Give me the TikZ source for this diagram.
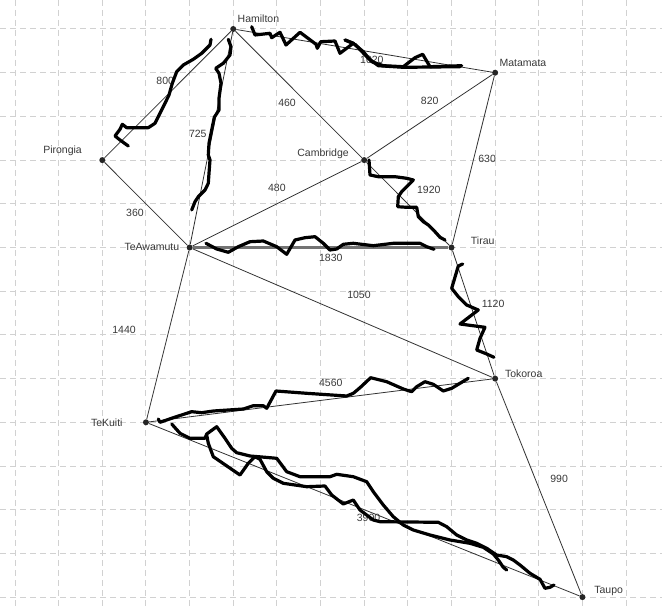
\documentclass[tikz,border=0pt]{standalone}
\usepackage{fontspec}
\setmainfont{Liberation Sans}
\usetikzlibrary{arrows}
\tikzstyle{town} = [circle, fill=black!85, inner sep=0pt, minimum size=6pt]
\tikzstyle{townlbl} = [text=black!78, font=\fontsize{10.5}{12}\selectfont, inner sep=2pt, text height=7.5pt, text depth=2.2pt]
\tikzstyle{weight} = [text=black!78, font=\fontsize{10.5}{12}\selectfont, inner sep=1pt]
\tikzstyle{road} = [draw, black!80, line width=0.8pt]
\tikzstyle{mainroad} = [draw, black!55, line width=2.2pt]
\tikzstyle{gridline} = [black!18, line width=1pt, dash pattern=on 6pt off 4pt]
\tikzstyle{scribble} = [draw, black, line width=3.2pt, line join=round, line cap=round]

\begin{document}
\begin{tikzpicture}[x=1pt, y=-1pt]
    \useasboundingbox (0,0) rectangle (662,610);
    % background grid
    \foreach \i in {0,...,14}
      \draw[gridline] ({15+43.65*\i},0) -- ({15+43.65*\i},610);
    \foreach \j in {0,...,13}
      \draw[gridline] (0,{29+43.7*\j}) -- (662,{29+43.7*\j});

    \node[town, label={[townlbl]above right:Hamilton}] (hamilton) at (233.25,29) {};
    \node[town, label={[townlbl]above right:Matamata}] (matamata) at (495.15,72.7) {};
    \node[town, label={[townlbl, xshift=-16pt]above left:Pirongia}] (pirongia) at (102.3,160.1) {};
    \node[town, label={[townlbl, xshift=-11pt, yshift=-3pt]above left:Cambridge}] (cambridge) at (364.2,160.1) {};
    \node[town, label={[townlbl, xshift=-5pt]left:TeAwamutu}] (teawamutu) at (189.6,247.5) {};
    \node[town, label={[townlbl, xshift=15pt, yshift=-4pt]above right:Tirau}] (tirau) at (451.5,247.5) {};
    \node[town, label={[townlbl, xshift=4.5pt, yshift=3.5pt]right:Tokoroa}] (tokoroa) at (495.15,378.6) {};
    \node[town, label={[townlbl, xshift=-18pt, yshift=-2pt]left:TeKuiti}] (tekuiti) at (145.95,422.3) {};
    \node[town, label={[townlbl, xshift=6.5pt, yshift=6pt]right:Taupo}] (taupo) at (582.45,597.1) {};

    \draw
    (hamilton) edge[road] node[weight, pos=.53, yshift=-7.7pt] {1020} (matamata)
    (pirongia) edge[road] node[weight, pos=.48, yshift=16.6pt] {800} (hamilton)
    (hamilton) edge[road] node[weight, pos=.48, xshift=-14.5pt] {725} (teawamutu)
    (hamilton) edge[road] node[weight, pos=.49, xshift=-10.4pt, yshift=-9.8pt] {460} (cambridge)
    (cambridge) edge[road] node[weight, pos=.5, yshift=15.5pt] {820} (matamata)
    (matamata) edge[road] node[weight, pos=.49, xshift=13.4pt] {630} (tirau)
    (cambridge) edge[road] node[weight, pos=.55, xshift=16.8pt, yshift=18.2pt] {1920} (tirau)
    (teawamutu) edge[road] node[weight, pos=.5, yshift=16.3pt] {480} (cambridge)
    (pirongia) edge[road] node[weight, pos=.5, xshift=-11pt, yshift=-9.2pt] {360} (teawamutu)
    (teawamutu) edge[mainroad] node[weight, pos=.54, yshift=-10.5pt] {1830} (tirau)
    (teawamutu) edge[road] node[weight, pos=.5, xshift=16.6pt, yshift=18pt] {1050} (tokoroa)
    (tirau) edge[road] node[weight, pos=.43, xshift=22.7pt] {1120} (tokoroa)
    (teawamutu) edge[road] node[weight, pos=.47, xshift=-45pt] {1440} (tekuiti)
    (tekuiti) edge[road] node[weight, pos=.53, yshift=16.3pt] {4560} (tokoroa)
    (tokoroa) edge[road] node[weight, pos=.46, xshift=23.7pt] {990} (taupo)
    (tekuiti) edge[road] node[weight, pos=.51, yshift=-6pt] {3900} (taupo)
    ;

    % freehand strokes
    \draw[scribble] (251.7,26.7) -- (255,35) -- (270,33.3) -- (271.7,37.7) -- (280,32.3) -- (286,45) -- (300,32.3) -- (316,44.3) -- (317.3,48.3) -- (320.7,41.7) -- (335,41) -- (340,53.3) -- (353.3,43.3) -- (345,40);
    \draw[scribble] (345,40) -- (353.3,43.3) -- (363.3,51.7) -- (371.7,61.7) -- (383.3,65.7) -- (403.3,66.7) -- (415,57.7) -- (422.7,54.3) -- (430,66.7) -- (461.7,65.7);
    \draw[scribble] (355,44.3) -- (368.3,58.3) -- (378.3,65.7) -- (403.3,67.3) -- (460,66.7);
    \draw[scribble] (211,39.3) -- (210,45) -- (201.7,53.3) -- (193.3,59.3) -- (183.3,65) -- (176.7,71.7) -- (172.3,83.3) -- (169,95) -- (165,103.3) -- (160,113.3) -- (155,123.3) -- (148.3,127.7) -- (126.7,127.7) -- (122.3,124.3) -- (120,129.3) -- (115,136) -- (120,140) -- (128.3,146);
    \draw[scribble] (228.3,39.3) -- (231,46.7) -- (230,55) -- (223.3,63.3) -- (215.7,68.3) -- (219,73.3) -- (221,83.3) -- (219,98.3) -- (219,110) -- (214.3,117.3) -- (211.7,130) -- (209,143.3) -- (208.3,155) -- (210,160) -- (209,173.3) -- (208.3,183.3) -- (205,190) -- (198.3,196.7) -- (195,201.7) -- (191.7,210);
    \draw[scribble] (369,160) -- (370,175) -- (378.3,176.7) -- (395,176.7) -- (406.7,178.3) -- (413.3,180) -- (406.7,186.7) -- (401.7,191.7) -- (398.3,196.7) -- (397.7,206.7) -- (406.7,207.3) -- (416.7,207.3) -- (418.3,216.7) -- (423.3,221.7) -- (428.3,225) -- (435,231.7) -- (440,237.3) -- (445,240);
    \draw[scribble] (206,243.3) -- (216.7,249) -- (228.3,252.3) -- (238.3,246.7) -- (250,241.7) -- (263.3,241) -- (276.7,246.7) -- (286.7,254.3) -- (295,240) -- (305,237.7) -- (315,236.7) -- (323.3,243.3) -- (330,250) -- (336.7,249) -- (343.3,244.3) -- (353.3,243.3) -- (373.3,245.7) -- (393.3,243.3) -- (420,243.3) -- (426.7,246.7) -- (434,249.3);
    \draw[scribble] (462.7,264) -- (458.3,266) -- (451.7,288.3) -- (458.3,296.7) -- (466.7,305) -- (478.3,310) -- (460,324) -- (485,327.3) -- (480,338.3) -- (476.7,350) -- (486.7,354) -- (494,357.3);
    \draw[scribble] (158.3,419) -- (160,422.3) -- (173.3,417.7) -- (191.7,411.7) -- (201.7,412.7) -- (213.3,411) -- (228.3,410) -- (243.3,409) -- (253.3,405.7) -- (263.3,405.7) -- (266.7,408.3) -- (276,391) -- (306.7,393.3) -- (346.7,396) -- (353.3,393.3) -- (360,387.7) -- (370.7,377.7) -- (386.7,381.7) -- (403.3,389) -- (411.7,391.7) -- (416.7,386.7) -- (425,381.7) -- (433.3,384.3) -- (443.3,391) -- (451.7,388.3) -- (460,383.3) -- (468.3,378.3);
    \draw[scribble] (171.7,424) -- (180,433.3) -- (190,438.3) -- (205,438.3) -- (206.7,434) -- (216.7,426.7) -- (225,438.3) -- (231.7,448.3) -- (236.7,452.7) -- (250,456) -- (258.3,456.7) -- (276.7,458.3) -- (286.7,471.7) -- (300,476.7) -- (330,476.7) -- (336.7,474.3) -- (353.3,476.7) -- (366.7,481.7) -- (373.3,491.7) -- (383.3,505) -- (393.3,516.7) -- (403.3,525) -- (413.3,530) -- (430,535) -- (450,540) -- (470,543.3) -- (483.3,547.3) -- (493.3,554) -- (498.3,560) -- (503.3,567.3) -- (506.7,570);
    \draw[scribble] (206.7,435) -- (208.3,443.3) -- (213.3,456.7) -- (240,475) -- (248.3,463.3) -- (255,456.7) -- (260,459.3) -- (266.7,471.7) -- (273.3,478.3) -- (283.3,483.3) -- (306.7,486.7) -- (325,486) -- (331.7,495) -- (343.3,504) -- (353.3,500) -- (360,510) -- (373.3,520) -- (380,521.7) -- (438.3,522.3) -- (446.7,526.7) -- (456.7,535) -- (466.7,540) -- (476.7,543.3) -- (486.7,548.3) -- (496.7,555) -- (506.7,556.7) -- (513.3,560) -- (520,565) -- (530,573.3) -- (540,579.3) -- (545,588.3) -- (550,587.3) -- (554,585);
\end{tikzpicture}
\end{document}
